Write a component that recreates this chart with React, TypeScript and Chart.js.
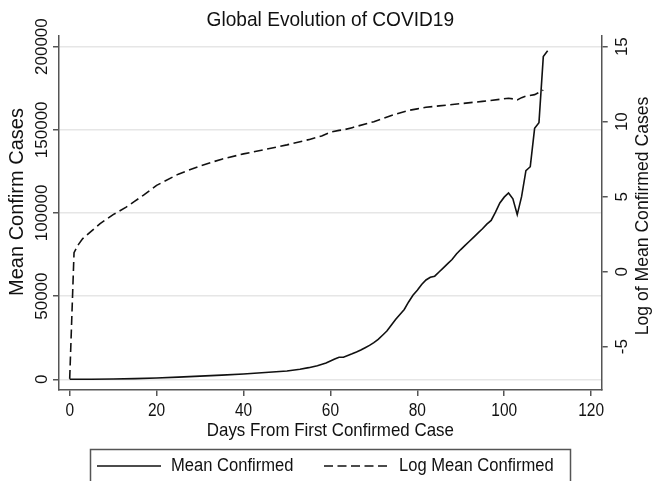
import React, { useEffect, useRef } from "react";
import { Chart, registerables } from "chart.js";

Chart.register(...registerables);

const titleText = "Global Evolution of COVID19";
const xTitle = "Days From First Confirmed Case";
const yLeftTitle = "Mean Confirm Cases";
const yRightTitle = "Log of Mean Confirmed Cases";
const seriesNames = ["Mean Confirmed", "Log Mean Confirmed"];

const xTicks = [0, 20, 40, 60, 80, 100, 120];
const leftTicks = [0, 50000, 100000, 150000, 200000];
const rightTicks = [-5, 0, 5, 10, 15];

const meanDays = [
  0, 5, 10, 15, 20, 25, 30, 35, 40, 45, 50, 53, 55, 57, 59, 60, 61, 62, 63, 64,
  65, 66, 67, 68, 69, 70, 71, 72, 73, 74, 75, 76, 77, 78, 79, 80, 81, 82, 83, 84,
  85, 86, 87, 88, 89, 90, 91, 92, 93, 94, 95, 96, 97, 98, 99, 100, 101, 102, 103,
  104, 105, 106, 107, 108, 109, 110,
];
const meanConfirmed = [
  0, 50, 150, 400, 800, 1300, 1900, 2500, 3200, 4100, 5000, 6000, 7000, 8200, 9800,
  11000, 12200, 13300, 13300, 14300, 15300, 16400, 17600, 19000, 20400, 22000, 24000,
  26500, 29000, 32500, 36000, 39000, 42000, 46500, 50500, 53500, 57000, 59700, 61300,
  62000, 64500, 67000, 69500, 72000, 75300, 78000, 80500, 83000, 85500, 88000, 90500,
  93300, 95500, 100500, 106000, 109500, 112000, 108500, 99000, 109800, 125400, 127800,
  150900, 154300, 194000, 197500,
];

const logDays = [
  0, 1, 2, 3, 4, 5, 7, 10, 13, 15, 17, 20, 25, 30, 35, 40, 45, 50, 55, 58, 60, 62,
  63, 65, 70, 75, 78, 80, 82, 85, 90, 95, 99, 101, 102, 103, 104, 105, 107, 108, 109,
];
const logMean = [
  -7.15, 1.27, 1.8, 2.2, 2.45, 2.7, 3.2, 3.8, 4.3, 4.7, 5.1, 5.75, 6.5, 7.05, 7.5,
  7.85, 8.15, 8.45, 8.8, 9.05, 9.3, 9.42, 9.45, 9.6, 10.0, 10.5, 10.75, 10.85, 10.96,
  11.05, 11.2, 11.35, 11.49, 11.56, 11.52, 11.45, 11.6, 11.7, 11.8, 11.95, 12.1,
];

const FONT = '"Liberation Sans", Arial, sans-serif';
const INK = "#111111";
const AXIS = "#555555";

const textPlugin = {
  id: "stataText",
  afterDraw(chart: any) {
    const ctx: CanvasRenderingContext2D = chart.ctx;
    const xs = chart.scales.x;
    const yl = chart.scales.y;
    const yr = chart.scales.y2;
    const area = chart.chartArea;
    const midX = (area.left + area.right) / 2;

    const hText = (s: string, cx: number, cy: number, size: number, sx: number, align: CanvasTextAlign = "center") => {
      ctx.save();
      ctx.translate(cx, cy);
      ctx.scale(sx, 1);
      ctx.font = `${size}px ${FONT}`;
      ctx.fillStyle = INK;
      ctx.textAlign = align;
      ctx.textBaseline = "middle";
      ctx.fillText(s, 0, 0);
      ctx.restore();
    };
    const vText = (s: string, cx: number, cy: number, size: number, sl: number) => {
      ctx.save();
      ctx.translate(cx, cy);
      ctx.rotate(-Math.PI / 2);
      ctx.scale(sl, 1);
      ctx.font = `${size}px ${FONT}`;
      ctx.fillStyle = INK;
      ctx.textAlign = "center";
      ctx.textBaseline = "middle";
      ctx.fillText(s, 0, 0);
      ctx.restore();
    };

    hText(titleText, midX, 20, 21, 0.91);
    xTicks.forEach((v) => hText(String(v), xs.getPixelForValue(v), 411, 18, 0.86));
    hText(xTitle, midX, 431, 19, 0.89);
    leftTicks.forEach((v) => vText(String(v), 42, yl.getPixelForValue(v), 17, 1));
    rightTicks.forEach((v) => vText(String(v), 622, yr.getPixelForValue(v), 17, 1));
    vText(yLeftTitle, 17, 202, 20, 1);
    vText(yRightTitle, 643.5, 216, 17.6, 1);

    // legend
    ctx.save();
    ctx.strokeStyle = AXIS;
    ctx.lineWidth = 1.5;
    ctx.strokeRect(90.5, 449.5, 480, 50);
    ctx.strokeStyle = INK;
    ctx.lineWidth = 1.6;
    ctx.beginPath();
    ctx.moveTo(97, 466);
    ctx.lineTo(161, 466);
    ctx.stroke();
    ctx.setLineDash([9, 4.5]);
    ctx.beginPath();
    ctx.moveTo(324, 466);
    ctx.lineTo(389, 466);
    ctx.stroke();
    ctx.restore();
    hText(seriesNames[0], 171, 466, 18, 0.92, "left");
    hText(seriesNames[1], 399, 466, 18, 0.92, "left");
  },
};

export default function App() {
  const ref = useRef<HTMLCanvasElement | null>(null);

  useEffect(() => {
    if (!ref.current) return;
    const meanData = meanDays.map((d, i) => ({ x: d, y: meanConfirmed[i] }));
    const logData = logDays.map((d, i) => ({ x: d, y: logMean[i] }));
    const setTicks = (vals: number[]) => (axis: any) => {
      axis.ticks = vals.map((v) => ({ value: v }));
    };
    const chart = new Chart(ref.current, {
      type: "line",
      data: {
        datasets: [
          {
            label: seriesNames[0],
            data: meanData,
            yAxisID: "y",
            borderColor: INK,
            borderWidth: 1.6,
            pointRadius: 0,
            tension: 0,
            fill: false,
          },
          {
            label: seriesNames[1],
            data: logData,
            yAxisID: "y2",
            borderColor: INK,
            borderWidth: 1.6,
            borderDash: [9, 4.5],
            pointRadius: 0,
            tension: 0,
            fill: false,
          },
        ],
      },
      options: {
        animation: false,
        responsive: false,
        devicePixelRatio: 1,
        layout: { padding: { top: 36, left: 0, right: 0, bottom: 0 } },
        plugins: {
          legend: { display: false },
          title: { display: false },
          tooltip: { enabled: false },
        },
        scales: {
          x: {
            type: "linear",
            min: -2.46,
            max: 122.44,
            afterBuildTicks: setTicks(xTicks),
            afterFit: (s: any) => {
              s.height = 91;
            },
            ticks: { display: false },
            grid: { drawOnChartArea: false, drawTicks: true, tickLength: 6, tickColor: AXIS, lineWidth: 1.5 },
            border: { display: true, color: AXIS, width: 1.5 },
          },
          y: {
            type: "linear",
            position: "left",
            min: -6430,
            max: 206380,
            afterBuildTicks: setTicks(leftTicks),
            afterFit: (s: any) => {
              s.width = 59;
            },
            ticks: { display: false },
            grid: { color: "#e6e6e6", lineWidth: 1.5, drawTicks: true, tickLength: 6, tickColor: AXIS },
            border: { display: true, color: AXIS, width: 1.5 },
          },
          y2: {
            type: "linear",
            position: "right",
            min: -7.89,
            max: 15.71,
            afterBuildTicks: setTicks(rightTicks),
            afterFit: (s: any) => {
              s.width = 50.3;
            },
            ticks: { display: false },
            grid: { drawOnChartArea: false, drawTicks: true, tickLength: 6, tickColor: AXIS, lineWidth: 1.5 },
            border: { display: true, color: AXIS, width: 1.5 },
          },
        },
      },
      plugins: [textPlugin],
    });
    return () => chart.destroy();
  }, []);

  return (
    <div style={{ position: "fixed", left: 0, top: 0, width: 652, height: 481, background: "#fff" }}>
      <canvas ref={ref} width={652} height={481} style={{ display: "block", width: 652, height: 481 }} />
    </div>
  );
}
